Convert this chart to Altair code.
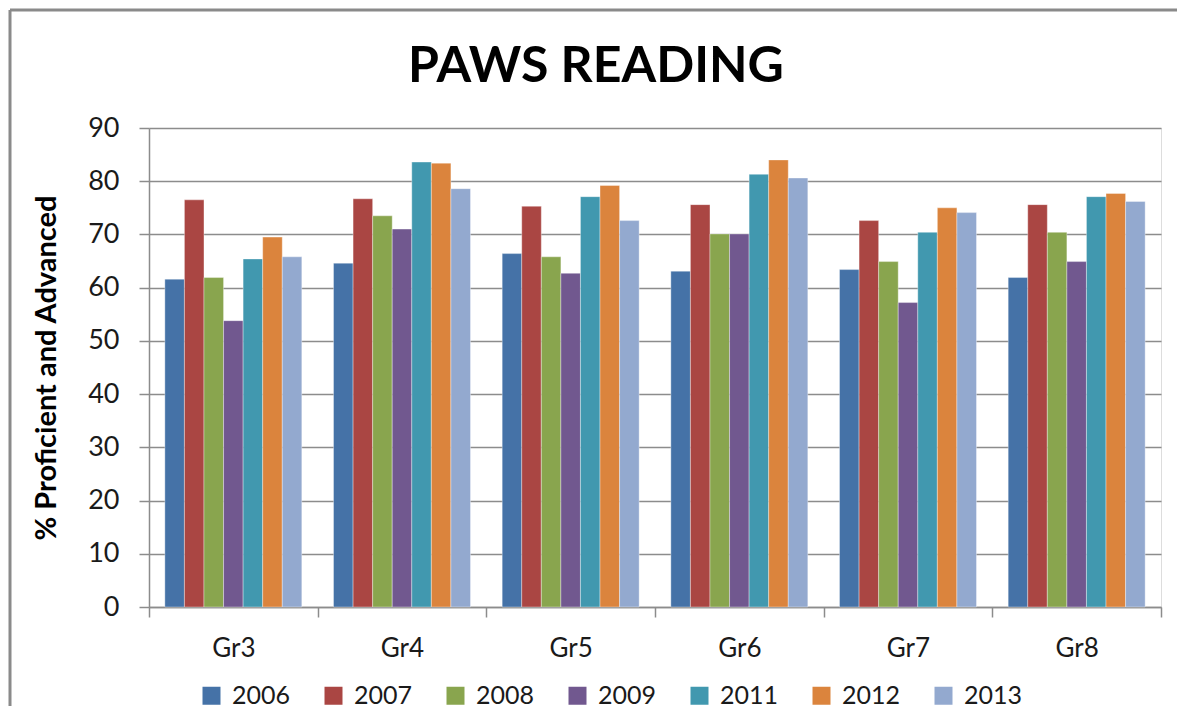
import altair as alt
import pandas as pd

grades = ["Gr3", "Gr4", "Gr5", "Gr6", "Gr7", "Gr8"]
years = ["2006", "2007", "2008", "2009", "2011", "2012", "2013"]
colors = ["#4572A7", "#AA4643", "#89A54E", "#71588F", "#4198AF", "#DB843D", "#93A9CF"]

v2006 = [61.6, 64.6, 66.4, 63.1, 63.4, 61.9]
v2007 = [76.5, 76.7, 75.3, 75.6, 72.6, 75.6]
v2008 = [61.9, 73.5, 65.8, 70.1, 64.9, 70.4]
v2009 = [53.8, 71.0, 62.7, 70.1, 57.2, 64.9]
v2011 = [65.4, 83.6, 77.1, 81.3, 70.4, 77.1]
v2012 = [69.5, 83.4, 79.2, 84.0, 75.0, 77.7]
v2013 = [65.8, 78.6, 72.6, 80.6, 74.1, 76.2]

series = [v2006, v2007, v2008, v2009, v2011, v2012, v2013]
rows = []
for y, vals in zip(years, series):
    for g, v in zip(grades, vals):
        rows.append({"grade": g, "year": y, "value": v})
df = pd.DataFrame(rows)

FONT = "Lato"
GRID = "#8c8c8c"

bars = alt.Chart(df).mark_bar(stroke="#ffffff", strokeWidth=0.6, strokeOpacity=0.6).encode(
    x=alt.X("grade:N", sort=grades, title=None,
            scale=alt.Scale(paddingInner=0, paddingOuter=0),
            axis=alt.Axis(tickBand="extent", labelAngle=0, labelFontSize=26, labelPadding=18,
                          tickSize=10, tickColor=GRID, domainColor=GRID, tickWidth=1.5,
                          domainWidth=1.5, labelColor="#1a1a1a", labelFont=FONT)),
    xOffset=alt.XOffset("year:N", sort=years,
                        scale=alt.Scale(paddingInner=0, paddingOuter=0.81)),
    y=alt.Y("value:Q", title="% Proficient and Advanced",
            scale=alt.Scale(domain=[0, 90], nice=False),
            axis=alt.Axis(values=list(range(0, 91, 10)), labelFontSize=27, labelPadding=20,
                          tickSize=10, tickColor=GRID, domainColor=GRID, gridColor=GRID,
                          gridWidth=1.5, tickWidth=1.5, domainWidth=1.5,
                          titleFontSize=29, titleFont=FONT, titleFontWeight="bold",
                          titlePadding=26, labelColor="#1a1a1a", titleColor="#000000",
                          labelFont=FONT)),
    color=alt.Color("year:N", sort=years, scale=alt.Scale(domain=years, range=colors),
                    legend=alt.Legend(title=None, orient="none", legendX=50, legendY=555,
                                      direction="horizontal", columns=7, columnPadding=30,
                                      symbolType="square", symbolSize=324, symbolStrokeWidth=0,
                                      labelFontSize=25, labelFont=FONT, labelOffset=8,
                                      labelColor="#1a1a1a")),
)

frame_df = pd.DataFrame({"k": [0]})
left_line = alt.Chart(frame_df).mark_rule(color="#8a8a8a", strokeWidth=3).encode(
    x=alt.value(-139), y=alt.value(-118), y2=alt.value(578))
top_line = alt.Chart(frame_df).mark_rule(color="#8a8a8a", strokeWidth=3).encode(
    x=alt.value(-139), x2=alt.value(1028), y=alt.value(-118))

chart = alt.layer(bars, left_line, top_line).properties(
    width=1012, height=479,
    title=alt.TitleParams("PAWS READING", fontSize=50, font=FONT, fontWeight="bold",
                          anchor="middle", dx=-59, offset=-83, color="#000000"),
    autosize=alt.AutoSizeParams(type="pad"),
    padding=0,
).configure_view(stroke=None).configure(background="#ffffff")

chart.save("out.html", embed_options={"renderer": "svg", "actions": False})
